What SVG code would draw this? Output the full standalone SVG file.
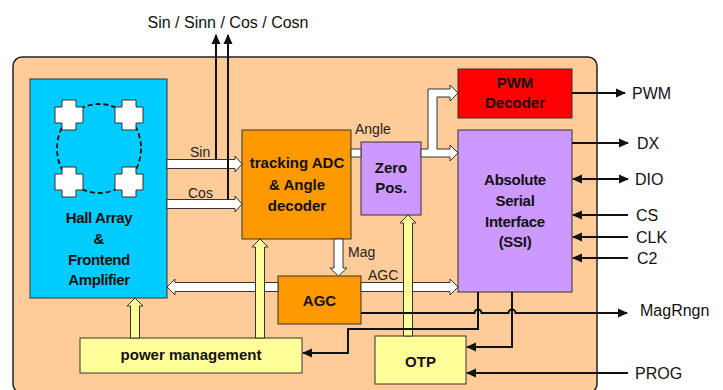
<svg xmlns="http://www.w3.org/2000/svg" width="723" height="390" viewBox="0 0 723 390">
<style>
.box{stroke:#333;stroke-width:1}
.bt{font-family:"Liberation Sans",Arial,sans-serif;font-weight:bold;font-size:15px;fill:#111;text-anchor:middle}
.lt{font-family:"Liberation Sans",Arial,sans-serif;font-size:16px;fill:#111}
.st{font-family:"Liberation Sans",Arial,sans-serif;font-size:14px;fill:#222}
.hol{fill:#fff;stroke:#333;stroke-width:1}
.yel{fill:#FFFF99;stroke:#333;stroke-width:1}
.ln{fill:none;stroke:#111;stroke-width:2}
.cross{fill:#fff;stroke:#333;stroke-width:1}
</style>
<defs>
<marker id="ah" markerWidth="10" markerHeight="10" refX="9" refY="5" orient="auto" markerUnits="userSpaceOnUse">
<path d="M0,0.5 L10,5 L0,9.5 Z" fill="#111"/>
</marker>
<marker id="ahs" markerWidth="10" markerHeight="10" refX="9" refY="5" orient="auto-start-reverse" markerUnits="userSpaceOnUse">
<path d="M0,0.5 L10,5 L0,9.5 Z" fill="#111"/>
</marker>
<path id="cr" d="M-7,-15 H7 V-8 H14 V8 H7 V15 H-7 V8 H-14 V-8 H-7 Z"/>
</defs>

<g id="chip">
<rect x="13" y="57" width="584" height="336" rx="9" fill="#FFCC99" stroke="#222" stroke-width="1.5"/>
</g>

<g id="hall">
<rect class="box" x="30" y="79" width="137" height="219" fill="#00CCFF"/>
<ellipse cx="99" cy="148.5" rx="42" ry="44.5" fill="none" stroke="#111" stroke-width="1.8" stroke-dasharray="5,3"/>
<use href="#cr" class="cross" x="69" y="115"/>
<use href="#cr" class="cross" x="129" y="115"/>
<use href="#cr" class="cross" x="69" y="182"/>
<use href="#cr" class="cross" x="129" y="182"/>
<text class="bt" x="99" y="223" letter-spacing="-0.4">Hall Array</text>
<text class="bt" x="99" y="244">&amp;</text>
<text class="bt" x="99" y="265" letter-spacing="-0.4">Frontend</text>
<text class="bt" x="99" y="285" letter-spacing="-0.4">Amplifier</text>
</g>

<g id="adc">
<rect class="box" x="242" y="130" width="109" height="109" fill="#FF9900"/>
<text class="bt" x="297" y="168">tracking ADC</text>
<text class="bt" x="297" y="190">&amp; Angle</text>
<text class="bt" x="297" y="211">decoder</text>
</g>

<g id="zeropos">
<rect class="box" x="361" y="142" width="60" height="73" fill="#CC99FF"/>
<text class="bt" x="391" y="173">Zero</text>
<text class="bt" x="391" y="193">Pos.</text>
</g>

<g id="pwm">
<rect class="box" x="458" y="69" width="114" height="49" fill="#FF0000"/>
<text class="bt" x="515" y="88">PWM</text>
<text class="bt" x="515" y="108">Decoder</text>
</g>

<g id="ssi">
<rect class="box" x="458" y="130" width="114" height="162" fill="#CC99FF"/>
<text class="bt" x="515" y="185" letter-spacing="-0.3">Absolute</text>
<text class="bt" x="515" y="206" letter-spacing="-0.3">Serial</text>
<text class="bt" x="515" y="227" letter-spacing="-0.3">Interface</text>
<text class="bt" x="515" y="247" letter-spacing="-0.3">(SSI)</text>
</g>

<g id="agc">
<rect class="box" x="278" y="276" width="83" height="48" fill="#FF9900"/>
<text class="bt" x="319.5" y="306" font-size="16">AGC</text>
</g>

<g id="power">
<rect class="box" x="80" y="338" width="222" height="35" fill="#FFFF99"/>
<text class="bt" x="191" y="360" font-size="14">power management</text>
</g>

<g id="otp">
<rect class="box" x="375" y="336" width="91" height="48" fill="#FFFF99"/>
<text class="bt" x="420.5" y="367" font-size="16.5">OTP</text>
</g>

<g id="connectors">
<!-- hollow arrows -->
<path class="hol" d="M167,159.5 H235 V156 L242,164 L235,172 V168.5 H167 Z"/>
<path class="hol" d="M167,199.5 H235 V196 L242,204 L235,212 V208.5 H167 Z"/>
<path class="hol" d="M351,149 H361 V157 H351 Z"/>
<path class="hol" d="M421,157 H450 V161 L458,153 L450,145 V149 H437 V97 H450 V101 L458,93 L450,85 V89 H428 V149 H421 Z"/>
<path class="hol" d="M334,239 V268 H330 L338.5,276 L347,268 H343 V239 Z"/>
<path class="hol" d="M361,282.5 H450 V279 L458,287 L450,295 V291.5 H361 Z"/>
<path class="hol" d="M278,282.5 H175 V279 L167,287 L175,295 V291.5 H278 Z"/>
<!-- Sin/Cos outputs -->
<line class="ln" x1="216" y1="159.5" x2="216" y2="35" marker-end="url(#ah)"/>
<line class="ln" x1="228" y1="199.5" x2="228" y2="35" marker-end="url(#ah)"/>
<!-- yellow power arrows -->
<path class="yel" d="M130.5,338 V306 H127 L135,298 L143,306 H139.5 V338 Z"/>
<path class="yel" d="M255.5,338 V247 H252 L260,239 L268,247 H264.5 V338 Z"/>
<path class="yel" d="M403.5,336 V223 H400 L408,215 L416,223 H412.5 V336 Z"/>
<!-- black lines -->
<line class="ln" x1="572" y1="93" x2="625" y2="93" marker-end="url(#ah)"/>
<line class="ln" x1="572" y1="143" x2="628" y2="143" marker-end="url(#ah)"/>
<line class="ln" x1="573" y1="179" x2="628" y2="179" marker-start="url(#ahs)" marker-end="url(#ah)"/>
<line class="ln" x1="628" y1="215" x2="573" y2="215" marker-end="url(#ah)"/>
<line class="ln" x1="628" y1="237" x2="573" y2="237" marker-end="url(#ah)"/>
<line class="ln" x1="628" y1="258" x2="573" y2="258" marker-end="url(#ah)"/>
<path class="ln" d="M361,313 H474.5 A3.5,3.5 0 0 1 481.5,313 H508.5 A3.5,3.5 0 0 1 515.5,313 H627" marker-end="url(#ah)"/>
<path class="ln" d="M478,292 V329 H348 V353 H303" marker-end="url(#ah)"/>
<path class="ln" d="M512,292 V347 H467" marker-end="url(#ah)"/>
<line class="ln" x1="628" y1="373" x2="467" y2="373" marker-end="url(#ah)"/>
</g>

<g id="labels">
<text class="lt" x="228" y="28" text-anchor="middle">Sin / Sinn / Cos / Cosn</text>
<text class="st" x="190" y="157">Sin</text>
<text class="st" x="188" y="198">Cos</text>
<text class="st" x="355" y="134">Angle</text>
<text class="st" x="348" y="257">Mag</text>
<text class="st" x="368" y="280" font-size="13">AGC</text>
<text class="lt" x="632" y="99">PWM</text>
<text class="lt" x="637" y="149">DX</text>
<text class="lt" x="635" y="185">DIO</text>
<text class="lt" x="636" y="221">CS</text>
<text class="lt" x="636" y="243">CLK</text>
<text class="lt" x="637" y="264">C2</text>
<text class="lt" x="640" y="316">MagRngn</text>
<text class="lt" x="635" y="379">PROG</text>
</g>
</svg>
